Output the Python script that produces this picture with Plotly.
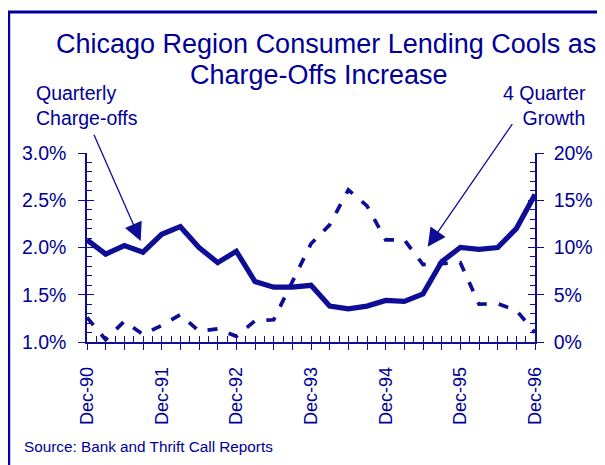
import plotly.graph_objects as go

quarters = ["Dec-90", "Mar-91", "Jun-91", "Sep-91", "Dec-91", "Mar-92", "Jun-92", "Sep-92",
            "Dec-92", "Mar-93", "Jun-93", "Sep-93", "Dec-93", "Mar-94", "Jun-94", "Sep-94",
            "Dec-94", "Mar-95", "Jun-95", "Sep-95", "Dec-95", "Mar-96", "Jun-96", "Sep-96",
            "Dec-96"]
charge_offs = [2.08, 1.93, 2.02, 1.95, 2.14, 2.22, 2.00, 1.84, 1.96, 1.64, 1.58, 1.58, 1.60,
               1.38, 1.35, 1.38, 1.44, 1.43, 1.51, 1.85, 2.00, 1.98, 2.00, 2.20, 2.56]
growth = [2.6, 0.25, 2.2, 0.8, 1.75, 2.9, 1.15, 1.4, 0.6, 2.25, 2.35, 6.3, 10.4, 12.4, 16.1,
          14.4, 10.8, 10.8, 8.2, 8.3, 8.4, 4.0, 4.05, 3.35, 1.0]
year_labels = ["Dec-90", "Dec-91", "Dec-92", "Dec-93", "Dec-94", "Dec-95", "Dec-96"]

LINE = "#0d0d96"
TEXT = "#000096"
FONT = "Liberation Sans, Arial, sans-serif"

OFF = 8  # page body margin offset of the figure inside the window
W, H = 605 - OFF, 465 - OFF
ML, MT = 87 - OFF, 153 - OFF
PW, PH = 448, 189
MR, MB = W - ML - PW, H - MT - PH


def px(xw):
    # window x pixel -> paper coordinate
    return (xw - OFF - ML) / PW


def py(yw):
    # window y pixel -> paper coordinate
    return (MT + PH - (yw - OFF)) / PH


fig = go.Figure()
fig.add_trace(go.Scatter(x=quarters, y=charge_offs, mode="lines",
                         line=dict(color=LINE, width=5.2), xaxis="x", yaxis="y",
                         hoverinfo="skip", showlegend=False))
fig.add_trace(go.Scatter(x=quarters, y=growth, mode="lines",
                         line=dict(color=LINE, width=3.7, dash="10px,12px"),
                         xaxis="x", yaxis="y2", hoverinfo="skip", showlegend=False))
# helper traces so overlay axes (for crossing tick marks) are drawn
fig.add_trace(go.Scatter(x=[None], y=[None], xaxis="x2", yaxis="y", showlegend=False, hoverinfo="skip"))
fig.add_trace(go.Scatter(x=[None], y=[None], xaxis="x", yaxis="y3", showlegend=False, hoverinfo="skip"))
fig.add_trace(go.Scatter(x=[None], y=[None], xaxis="x", yaxis="y4", showlegend=False, hoverinfo="skip"))

n = len(quarters)
ticktext = [q if q in year_labels else "" for q in quarters]

axis_common = dict(showgrid=False, zeroline=False, linecolor=LINE, tickcolor=LINE,
                   tickwidth=1.3)

fig.update_layout(
    width=W, height=H,
    margin=dict(l=ML, r=MR, t=MT, b=MB, pad=0),
    paper_bgcolor="white", plot_bgcolor="white",
    hovermode=False,
    xaxis=dict(**axis_common, type="category", range=[0, n - 1], showline=True, linewidth=1.5,
               tickmode="array", tickvals=quarters, ticktext=ticktext, ticks="outside",
               ticklen=6, tickangle=-90, ticklabelstandoff=10,
               tickfont=dict(family=FONT, color=TEXT, size=18)),
    xaxis2=dict(showgrid=False, zeroline=False, overlaying="x", anchor="y", side="bottom",
                range=[0, n - 1], tickmode="linear", tick0=0, dtick=0.5, ticks="inside",
                ticklen=6, tickwidth=1.3, tickcolor=LINE, showticklabels=False, showline=False),
    yaxis=dict(**axis_common, range=[1.0, 3.0], showline=True, linewidth=1.5,
               tickmode="linear", tick0=1.0, dtick=0.5, tickformat=".1f", ticksuffix="%",
               ticks="outside", ticklen=7, ticklabelstandoff=8,
               tickfont=dict(family=FONT, color=TEXT, size=19.5)),
    yaxis2=dict(**axis_common, overlaying="y", side="right", anchor="x", range=[0, 20],
                showline=True, linewidth=1.5, tickmode="linear", tick0=0, dtick=5,
                ticksuffix="%", ticks="outside", ticklen=7, ticklabelstandoff=6,
                tickfont=dict(family=FONT, color=TEXT, size=19.5)),
    yaxis3=dict(showgrid=False, zeroline=False, overlaying="y", side="left", anchor="x",
                range=[1.0, 3.0], tickmode="linear", tick0=1.0, dtick=0.5, ticks="inside",
                ticklen=7, tickwidth=1.3, tickcolor=LINE, showticklabels=False, showline=False,
                minor=dict(ticks="inside", dtick=0.1, ticklen=5, tickwidth=1.3, tickcolor=LINE)),
    yaxis4=dict(showgrid=False, zeroline=False, overlaying="y", side="right", anchor="x",
                range=[0, 20], tickmode="linear", tick0=0, dtick=5, ticks="inside",
                ticklen=7, tickwidth=1.3, tickcolor=LINE, showticklabels=False, showline=False,
                minor=dict(ticks="inside", dtick=1, ticklen=5, tickwidth=1.3, tickcolor=LINE)),
)

# outer frame
fig.add_shape(type="rect", xref="paper", yref="paper",
              x0=px(8.7), x1=px(700), y0=py(12), y1=py(700),
              line=dict(color=TEXT, width=3), fillcolor="rgba(0,0,0,0)", layer="above")

annots = [
    dict(text="Chicago Region Consumer Lending Cools as", x=px(325.7), y=py(43.8),
         xanchor="center", yanchor="middle", font=dict(size=27)),
    dict(text="Charge-Offs Increase", x=px(319), y=py(75.1),
         xanchor="center", yanchor="middle", font=dict(size=27)),
    dict(text="Quarterly<br>Charge-offs", x=px(34), y=py(105.4), xanchor="left",
         yanchor="middle", align="left", font=dict(size=19.5)),
    dict(text="4 Quarter<br>Growth", x=px(588), y=py(105.4), xanchor="right",
         yanchor="middle", align="right", font=dict(size=19.5)),
    dict(text="Source: Bank and Thrift Call Reports", x=px(21.5), y=py(446),
         xanchor="left", yanchor="middle", font=dict(size=15.3)),
]
for a in annots:
    a["font"].update(family=FONT, color=TEXT)
    fig.add_annotation(xref="paper", yref="paper", showarrow=False, **a)

# pointer arrows (window pixel positions of tip and tail)
arrows = [
    dict(tip=(140.7, 241.0), tail=(93.3, 133.3)),
    dict(tip=(427.7, 246.7), tail=(513.3, 122.7)),
]
for ar in arrows:
    tx, ty = ar["tip"]
    sx, sy = ar["tail"]
    fig.add_annotation(xref="paper", yref="paper", x=px(tx), y=py(ty), text="",
                       showarrow=True, arrowhead=2, arrowsize=2.8, arrowwidth=1.3,
                       arrowcolor=LINE, ax=sx - tx, ay=sy - ty, standoff=0)

fig.write_html("out.html")
